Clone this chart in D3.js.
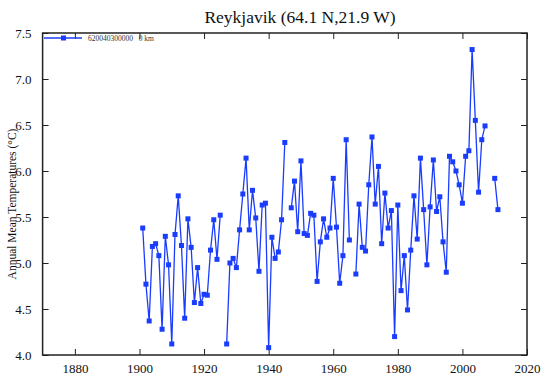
<!DOCTYPE html>
<html><head><meta charset="utf-8">
<script src="https://cdn.jsdelivr.net/npm/d3@7"></script>
<style>body{margin:0;background:#fff}svg{display:block}svg text{font-family:'Liberation Serif','Times New Roman',serif}</style>
</head><body><svg id="c" width="548" height="383"></svg>
<script>
const title = "Reykjavik (64.1 N,21.9 W)";
const yLabel = "Annual Mean Temperatures (°C)";
const seriesName = "620040300000\u00a0\u00a0\u00a00 km";
const years = [1901,1902,1903,1904,1905,1906,1907,1908,1909,1910,1911,1912,1913,1914,1915,1916,1917,1918,1919,1920,
1921,1922,1923,1924,1925,1926,1927,1928,1929,1930,1931,1932,1933,1934,1935,1936,1937,1938,1939,1940,
1941,1942,1943,1944,1945,1946,1947,1948,1949,1950,1951,1952,1953,1954,1955,1956,1957,1958,1959,1960,
1961,1962,1963,1964,1965,1966,1967,1968,1969,1970,1971,1972,1973,1974,1975,1976,1977,1978,1979,1980,
1981,1982,1983,1984,1985,1986,1987,1988,1989,1990,1991,1992,1993,1994,1995,1996,1997,1998,1999,2000,
2001,2002,2003,2004,2005,2006,2007,2008,2009,2010,2011];
const temps = [5.38,4.77,4.37,5.18,5.21,5.08,4.28,5.29,4.98,4.12,5.31,5.73,5.19,4.40,5.48,5.17,4.57,4.95,4.56,4.66,
4.65,5.14,5.47,5.04,5.52,null,4.12,5.00,5.05,4.95,5.36,5.75,6.14,5.36,5.79,5.49,4.91,5.63,5.65,4.08,
5.28,5.05,5.12,5.47,6.31,null,5.60,5.89,5.34,6.11,5.32,5.30,5.54,5.52,4.80,5.23,5.48,5.28,5.38,5.92,
5.39,4.78,5.08,6.34,5.25,null,4.88,5.64,5.17,5.13,5.85,6.37,5.64,6.05,5.21,5.76,5.38,5.57,4.20,5.63,
4.70,5.08,4.49,5.14,5.73,5.26,6.14,5.58,4.98,5.61,6.12,5.56,5.72,5.23,4.90,6.16,6.10,6.00,5.85,5.65,
6.16,6.22,7.32,6.55,5.77,6.34,6.49,null,null,5.92,5.58];
const xTicks = [1880,1900,1920,1940,1960,1980,2000,2020];
const yTicks = [4.0,4.5,5.0,5.5,6.0,6.5,7.0,7.5];

const data = years.map((y,i)=>({year:y,t:temps[i]}));
const svg = d3.select("#c");
const L=42.6, R=527, T=33, B=355;
const x = d3.scaleLinear().domain([1870,2020]).range([L,R]);
const y = d3.scaleLinear().domain([4.0,7.5]).range([B,T]);
const blue = "#1a3cff";

function style(g){
  g.attr("font-family",null);
  g.select(".domain").remove();
  g.selectAll("text").attr("font-size",13).attr("fill","#111");
  g.selectAll("line").attr("stroke","#222");
}
const tl = 6;
svg.append("g").attr("transform",`translate(0,${B})`)
  .call(d3.axisBottom(x).tickValues(xTicks).tickFormat(d3.format("d")).tickSizeInner(-tl).tickSizeOuter(0).tickPadding(9)).call(style);
svg.append("g").attr("transform",`translate(0,${T})`)
  .call(d3.axisTop(x).tickValues(xTicks).tickFormat("").tickSizeInner(-tl).tickSizeOuter(0)).call(style);
svg.append("g").attr("transform",`translate(${L},0)`)
  .call(d3.axisLeft(y).tickValues(yTicks).tickFormat(d3.format(".1f")).tickSizeInner(-tl).tickSizeOuter(0).tickPadding(11)).call(style);
svg.append("g").attr("transform",`translate(${R},0)`)
  .call(d3.axisRight(y).tickValues(yTicks).tickFormat("").tickSizeInner(-tl).tickSizeOuter(0)).call(style);
svg.append("rect").attr("x",L).attr("y",T).attr("width",R-L).attr("height",B-T)
  .attr("fill","none").attr("stroke","#222").attr("stroke-width",1.5);

svg.append("text").attr("x",300).attr("y",23).attr("text-anchor","middle")
  .attr("font-size",17.5).attr("fill","#111").text(title);
svg.append("text").attr("transform",`translate(16,${(T+B)/2 + 10}) rotate(-90)`).attr("text-anchor","middle")
  .attr("font-size",11.5).attr("fill","#111").text(yLabel);

const line = d3.line().defined(d=>d.t!=null).x(d=>x(d.year)).y(d=>y(d.t));
svg.append("path").datum(data).attr("d",line).attr("fill","none").attr("stroke",blue).attr("stroke-width",1.3);
svg.append("g").selectAll("rect").data(data.filter(d=>d.t!=null)).join("rect")
  .attr("x",d=>x(d.year)-2.5).attr("y",d=>y(d.t)-2.5).attr("width",5).attr("height",5).attr("fill",blue);

const ly = 38;
svg.append("line").attr("x1",44).attr("x2",82).attr("y1",ly).attr("y2",ly).attr("stroke",blue).attr("stroke-width",1.3);
svg.append("rect").attr("x",61).attr("y",ly-2.5).attr("width",5).attr("height",5).attr("fill",blue);
svg.append("text").attr("x",88).attr("y",ly+2.5).attr("font-size",7.5).attr("fill","#333").text(seriesName);
</script></body></html>
